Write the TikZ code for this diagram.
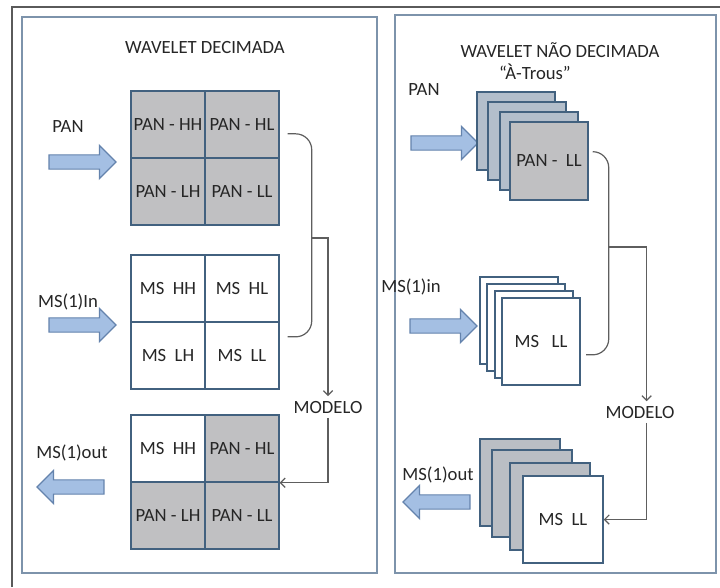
\documentclass[tikz,border=0pt]{standalone}
\usepackage{fontspec}
\setmainfont{Carlito}
\usepackage{xcolor}
\usepackage{tikz}
\usetikzlibrary{arrows.meta,positioning,shapes.arrows}

\definecolor{framegray}{HTML}{5A5A5A}
\definecolor{panelblue}{HTML}{7D93AB}
\definecolor{gridblue}{HTML}{42617F}
\definecolor{cellgray}{HTML}{C0C0C2}
\definecolor{sheetblue}{HTML}{B3BECB}
\definecolor{sheetgray}{HTML}{BABEC4}
\definecolor{arrowfill}{HTML}{A4BFE3}
\definecolor{arrowedge}{HTML}{6483AD}
\definecolor{linegray}{HTML}{5E5E5E}
\definecolor{txtgray}{HTML}{262626}

\begin{document}
\begin{tikzpicture}[
  x=0.75pt, y=-0.75pt,
  font=\fontsize{14}{16}\selectfont, text=txtgray,
  panel/.style={draw=panelblue, line width=1.4pt},
  cell/.style={draw=gridblue, line width=1.1pt, inner sep=0pt,
               minimum width=55.5pt, minimum height=50.25pt},
  gcell/.style={cell, fill=cellgray},
  sheet/.style={draw=gridblue, line width=1.1pt, inner sep=0pt},
  bigarrow/.style={single arrow, draw=arrowedge, fill=arrowfill, line width=0.9pt,
                   inner xsep=0pt, inner ysep=4.9pt, minimum height=50.25pt,
                   single arrow head extend=7.1pt, single arrow head indent=0pt},
  leftarrow/.style={bigarrow, shape border rotate=180},
  link/.style={draw=linegray, line width=0.9pt},
  arr/.style={link, -{Straight Barb[length=3.5pt,width=7pt]}}
]
\useasboundingbox (0,0) rectangle (720,587);
\fill[white] (0,0) rectangle (720,587);
\draw[framegray, line width=1.2pt] (12,587) -- (12,7) -- (720,7);

\draw[panel] (22,17) rectangle (377,573);
\draw[panel] (395,15) rectangle (716,573);

\node (titL) at (205,47) {WAVELET DECIMADA};
\node (titR) at (560,50) {WAVELET NÃO DECIMADA};
\node (trous) at (535,72) {“À-Trous”};

\node (panL) at (68,127) {PAN};
\node[bigarrow] (panArrL) at (79,162) {};
\node (msinL) at (68,302) {MS(1)In};
\node[bigarrow] (msArrL) at (79,325) {};
\node (msoutL) at (72,453) {MS(1)out};
\node[leftarrow] (outArrL) at (74,487) {};

\node[gcell] (panHH) at (168,124.5) {PAN - HH};
\node[gcell] (panHL) at (242,124.5) {PAN - HL};
\node[gcell] (panLH) at (168,191.5) {PAN - LH};
\node[gcell] (panLL) at (242,191.5) {PAN - LL};

\node[cell] (msHH) at (168,288.5) {MS~~HH};
\node[cell] (msHL) at (242,288.5) {MS~~HL};
\node[cell] (msLH) at (168,355.5) {MS~~LH};
\node[cell] (msLL) at (242,355.5) {MS~~LL};

\node[cell] (outHH) at (168,448.5) {MS~~HH};
\node[gcell] (outHL) at (242,448.5) {PAN - HL};
\node[gcell] (outLH) at (168,515.5) {PAN - LH};
\node[gcell] (outLL) at (242,515.5) {PAN - LL};

\node (modL) at (328,407) {MODELO};

\draw[link, rounded corners=12pt] ([xshift=6pt,yshift=-7pt]panHL.east) -- ++(24,0)
  |- ([xshift=6pt,yshift=14pt]msLL.east);
\coordinate (brL) at (311,238);
\draw[arr] (brL) -| (modL.north);
\draw[arr] (modL.south) |- (outHL.south east);

\node (panR) at (424,90) {PAN};
\node[bigarrow] (panArrR) at (441,143) {};
\node (msinR) at (411,287) {MS(1)in};
\node[bigarrow] (msArrR) at (440,326) {};
\node (msoutR) at (438,475) {MS(1)out};
\node[leftarrow] (outArrR) at (440,502) {};

\node[sheet, fill=sheetblue, minimum width=58.5pt, minimum height=58.5pt] (panS1) at (516,131) {};
\node[sheet, fill=sheetblue, minimum width=58.5pt, minimum height=58.5pt] (panS2) at (527,141) {};
\node[sheet, fill=sheetblue, minimum width=58.5pt, minimum height=58.5pt] (panS3) at (539,151) {};
\node[sheet, fill=cellgray, minimum width=58.5pt, minimum height=58.5pt] (panS4) at (549,161) {PAN -~~LL};

\node[sheet, fill=white, minimum width=58.5pt, minimum height=65.25pt] (msS1) at (519,320.5) {};
\node[sheet, fill=white, minimum width=58.5pt, minimum height=65.25pt] (msS2) at (526,327.5) {};
\node[sheet, fill=white, minimum width=58.5pt, minimum height=65.25pt] (msS3) at (534,334.5) {};
\node[sheet, fill=white, minimum width=58.5pt, minimum height=65.25pt] (msS4) at (541,341.5) {MS~~~LL};

\node[sheet, fill=sheetgray, minimum width=60pt, minimum height=65.25pt] (outS1) at (520,482.5) {};
\node[sheet, fill=sheetgray, minimum width=60pt, minimum height=65.25pt] (outS2) at (532,493.5) {};
\node[sheet, fill=sheetgray, minimum width=60pt, minimum height=65.25pt] (outS3) at (550,506.5) {};
\node[sheet, fill=white, minimum width=60pt, minimum height=65.25pt] (outS4) at (563,519.5) {MS~~LL};

\node (modR) at (640,412) {MODELO};

\draw[link, rounded corners=12pt] ([xshift=3pt,yshift=7pt]panS4.east) -- ++(16,0)
  |- ([xshift=4pt,yshift=-10pt]msS4.east);
\coordinate (brR) at (608,247);
\draw[arr] (brR) -| ([xshift=5pt]modR.north);
\draw[arr] ([xshift=5pt]modR.south) |- (outS4.east);
\end{tikzpicture}
\end{document}
